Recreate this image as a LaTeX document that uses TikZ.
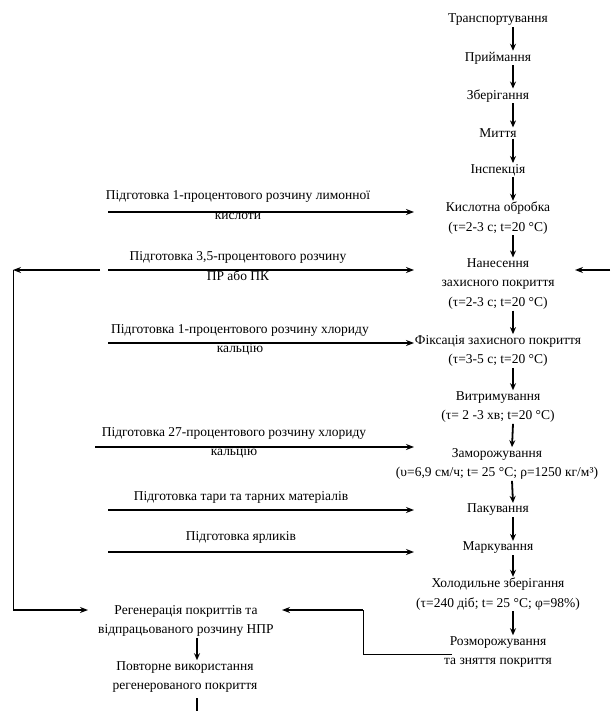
\documentclass[tikz,border=0pt]{standalone}
\usepackage{fontspec}
\setmainfont{Liberation Serif}
\usetikzlibrary{arrows.meta}
\begin{document}
\begin{tikzpicture}[x=1pt,y=-1pt,
  txt/.style={inner sep=1pt,align=center,font=\fontsize{13.5}{19.5}\selectfont},
  arr/.style={line width=1.8pt,-{Stealth[length=7pt,width=6pt]}},
  harr/.style={line width=1.8pt,-{Stealth[length=8pt,width=6pt]}},
  thin/.style={line width=0.9pt}]
\useasboundingbox (0,0) rectangle (610,711);
% main column
\node[txt] (t1) at (498,20) {Транспортування};
\node[txt] (t2) at (498,58) {Приймання};
\node[txt] (t3) at (498,96) {Зберігання};
\node[txt] (t4) at (498,133) {Миття};
\node[txt] (t5) at (498,170) {Інспекція};
\node[txt] (t6) at (498,218) {Кислотна обробка\\(τ=2-3 с; t=20 °C)};
\node[txt] (t7) at (498,284) {Нанесення\\захисного покриття\\(τ=2-3 с; t=20 °C)};
\node[txt] (t8) at (498,351) {Фіксація захисного покриття\\(τ=3-5 с; t=20 °C)};
\node[txt] (t9) at (498,407) {Витримування\\(τ= 2 -3 хв; t=20 °C)};
\node[txt] (t10) at (497,464) {Заморожування\\(υ=6,9 см/ч; t= 25 °C; ρ=1250 кг/м³)};
\node[txt] (t11) at (498,510) {Пакування};
\node[txt] (t12) at (498,548) {Маркування};
\node[txt] (t13) at (498,594) {Холодильне зберігання\\(τ=240 діб; t= 25 °C; φ=98\%)};
\node[txt] (t14) at (498,652) {Розморожування\\та зняття покриття};
\foreach \a/\b in {t1/t2,t2/t3,t3/t4,t4/t5,t5/t6,t6/t7,t7/t8,t8/t9,t9/t10,t10/t11,t11/t12,t12/t13,t13/t14}
  \draw[arr] ([xshift=15pt]\a.south) -- ([xshift=15pt]\b.north);
% left preparation texts
\node[txt] (p1) at (238,205) {Підготовка 1-процентового розчину лимонної\\кислоти};
\node[txt] (p2) at (238,266) {Підготовка 3,5-процентового розчину\\ПР або ПК};
\node[txt] (p3) at (240,340) {Підготовка 1-процентового розчину хлориду\\кальцію};
\node[txt] (p4) at (234,443) {Підготовка 27-процентового розчину хлориду\\кальцію};
\node[txt] (p5) at (241,497) {Підготовка тари та тарних матеріалів};
\node[txt] (p6) at (241,537) {Підготовка ярликів};
\coordinate (s1) at (108,212); \coordinate (e1) at (414,212);
\coordinate (s2) at (108,270); \coordinate (e2) at (414,270);
\coordinate (s3) at (108,343); \coordinate (e3) at (414,343);
\coordinate (s4) at (95,447);  \coordinate (e4) at (414,447);
\coordinate (s5) at (108,510); \coordinate (e5) at (414,510);
\coordinate (s6) at (108,552); \coordinate (e6) at (414,552);
\foreach \i in {1,...,6} \draw[harr] (s\i) -- (e\i);
% return line to the left
\coordinate (r0) at (100,270); \coordinate (r1) at (13,270);
\coordinate (r2) at (13,610); \coordinate (r3) at (88,610);
\draw[harr] (r0) -- (r1);
\draw[thin] (r1) -- (r2);
\draw[harr] (r2) -- (r3);
% right input to coating
\coordinate (q0) at (610,270); \coordinate (q1) at (575,270);
\draw[harr] (q0) -- (q1);
% regeneration
\node[txt] (g1) at (186,621) {Регенерація покриттів та\\відпрацьованого розчину НПР};
\node[txt] (g2) at (185,677) {Повторне використання\\регенерованого покриття};
\draw[arr] ([xshift=11pt]g1.south) -- ([xshift=12pt]g2.north);
\coordinate (gc) at (197,698); \coordinate (gd) at (197,711);
\draw[line width=1.8pt] (gc) -- (gd);
% thaw to regeneration
\coordinate (u0) at (452,654); \coordinate (u1) at (363,654);
\coordinate (u2) at (363,610); \coordinate (u3) at (282,610);
\draw[thin] (u0) -- (u1) -- (u2);
\draw[harr] (u2) -- (u3);
\end{tikzpicture}
\end{document}
